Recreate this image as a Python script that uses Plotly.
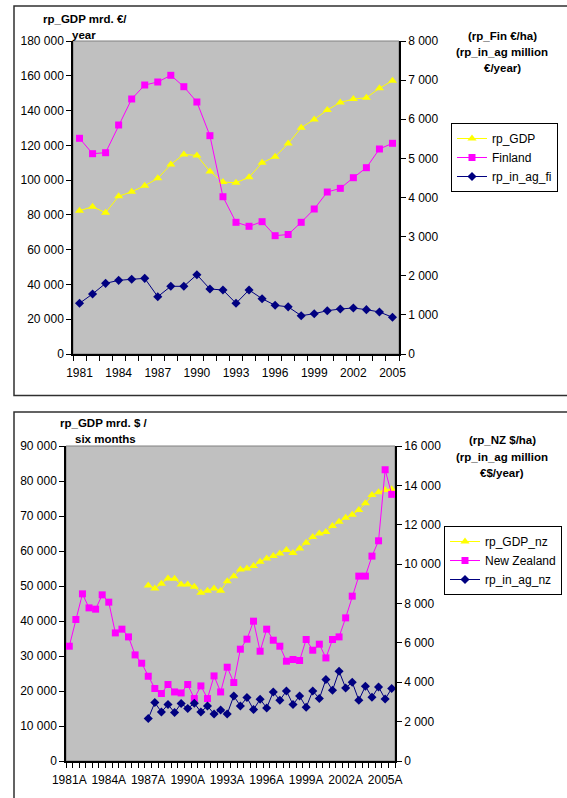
import plotly.graph_objects as go

W, H = 567, 798

# ---------------- Finland, annual series ----------------
fi_years = ["1981", "1982", "1983", "1984", "1985", "1986", "1987", "1988", "1989",
            "1990", "1991", "1992", "1993", "1994", "1995", "1996", "1997", "1998",
            "1999", "2000", "2001", "2002", "2003", "2004", "2005"]
fi_year_labels = ["1981", "1984", "1987", "1990", "1993", "1996", "1999", "2002", "2005"]

# rp_GDP, mrd. EUR / year (left axis)
fi_gdp = [82400, 84700, 81300, 90700, 93300, 96800, 101000, 109000, 114800, 114200,
          105000, 98900, 98500, 101600, 110000, 113500, 121000, 130100, 134900, 140300,
          144700, 146600, 147400, 152800, 157200]
# Finland rp, EUR/ha (right axis)
fi_rp = [5513, 5120, 5145, 5853, 6518, 6875, 6952, 7123, 6832, 6441,
         5580, 4020, 3366, 3264, 3382, 3024, 3055, 3366, 3706, 4140,
         4234, 4506, 4762, 5240, 5385]
# rp_in_ag, million EUR / year (right axis)
fi_in_ag = [1296, 1534, 1806, 1883, 1909, 1934, 1465, 1730, 1730, 2027,
            1661, 1636, 1296, 1636, 1414, 1245, 1205, 979, 1030, 1107,
            1150, 1176, 1133, 1074, 938]

# ---------------- New Zealand, half-year series ----------------
nz_periods = ["1981A", "1981B", "1982A", "1982B", "1983A", "1983B", "1984A", "1984B",
              "1985A", "1985B", "1986A", "1986B", "1987A", "1987B", "1988A", "1988B",
              "1989A", "1989B", "1990A", "1990B", "1991A", "1991B", "1992A", "1992B",
              "1993A", "1993B", "1994A", "1994B", "1995A", "1995B", "1996A", "1996B",
              "1997A", "1997B", "1998A", "1998B", "1999A", "1999B", "2000A", "2000B",
              "2001A", "2001B", "2002A", "2002B", "2003A", "2003B", "2004A", "2004B",
              "2005A", "2005B"]
nz_period_labels = ["1981A", "1984A", "1987A", "1990A", "1993A", "1996A", "1999A",
                    "2002A", "2005A"]

# rp_GDP_nz, mrd. $ / six months (left axis)
nz_gdp = [None, None, None, None, None, None, None, None, None, None, None, None,
          50160, 49300, 50620, 52160, 52050, 50450, 50450, 49760, 48050, 48620,
          49300, 48620, 51390, 52820, 54740, 55020, 55680, 56910, 57880, 58540,
          59310, 60260, 59400, 60740, 62350, 63970, 65030, 65410, 67120, 68350,
          69490, 70350, 71700, 73610, 75990, 76760, 77420, 77620]
# New Zealand rp, $/ha (right axis)
nz_rp = [5831, 7189, 8490, 7778, 7712, 8439, 8068, 6507, 6696, 6304,
         5389, 4967, 4306, 3681, 3427, 3884, 3508, 3457, 3884, 3172,
         3813, 3172, 4321, 3508, 4764, 3986, 5679, 6187, 7102, 5577,
         6696, 6136, 5831, 5069, 5155, 5104, 6172, 5628, 5933, 5236,
         6172, 6304, 7270, 8373, 9390, 9390, 10407, 11185, 14794, 13544]
# rp_in_ag_nz (right axis)
nz_in_ag = [None, None, None, None, None, None, None, None, None, None, None, None,
            2156, 2969, 2491, 2867, 2461, 2923, 2664, 2933, 2491, 2796,
            2389, 2593, 2389, 3305, 2796, 3223, 2613, 3137, 2694, 3508,
            3086, 3559, 2867, 3305, 2730, 3559, 3172, 4138, 3594, 4560,
            3711, 4001, 3086, 3798, 3238, 3762, 3152, 3681]

YELLOW = "#FFFF00"
MAGENTA = "#FF00FF"
NAVY = "#000080"
FONT = "Liberation Sans, Arial, sans-serif"


def px_x(p):
    return p / W


def px_y(p):
    return 1 - p / H


fig = go.Figure()


def add_series(x, y, name, color, symbol, size, xa, ya, legend):
    fig.add_trace(go.Scatter(
        x=x, y=y, name=name, mode="lines+markers",
        line=dict(color=color, width=1),
        marker=dict(color=color, symbol=symbol, size=size, line=dict(width=0)),
        xaxis=xa, yaxis=ya, legend=legend, connectgaps=False,
    ))


# top chart
add_series(fi_years, fi_gdp, "rp_GDP", YELLOW, "triangle-up", 8, "x", "y", "legend")
add_series(fi_years, fi_rp, "Finland", MAGENTA, "square", 7, "x", "y2", "legend")
add_series(fi_years, fi_in_ag, "rp_in_ag_fi", NAVY, "diamond", 7, "x", "y2", "legend")

# bottom chart
add_series(nz_periods, nz_gdp, "rp_GDP_nz", YELLOW, "triangle-up", 8, "x2", "y3", "legend2")
add_series(nz_periods, nz_rp, "New Zealand", MAGENTA, "square", 7, "x2", "y4", "legend2")
add_series(nz_periods, nz_in_ag, "rp_in_ag_nz", NAVY, "diamond", 7, "x2", "y4", "legend2")

tick_font = dict(family=FONT, size=12, color="black")

axis_common = dict(
    showgrid=False, zeroline=False, showline=True, linecolor="black", linewidth=1.5,
    ticks="outside", ticklen=5, tickwidth=1, tickcolor="black", tickfont=tick_font,
    fixedrange=True, automargin=False,
)

top_x = [px_x(73), px_x(399)]
top_y = [px_y(354), px_y(41)]
bot_x = [px_x(66), px_x(395)]
bot_y = [px_y(761), px_y(446)]

legend_common = dict(xanchor="left", yanchor="top", bgcolor="white",
                     bordercolor="black", borderwidth=1,
                     font=dict(family=FONT, size=12), itemwidth=30,
                     tracegroupgap=0)

fig.update_layout(
    width=W, height=H, autosize=False,
    margin=dict(l=0, r=0, t=0, b=0, pad=0, autoexpand=False),
    paper_bgcolor="white", plot_bgcolor="#C0C0C0",
    separators=". ",
    font=dict(family=FONT, size=12, color="black"),
    xaxis=dict(axis_common, type="category", domain=top_x, anchor="y",
               range=[-0.5, len(fi_years) - 0.5], tickmode="array",
               tickvals=fi_years,
               ticktext=[y if y in fi_year_labels else "" for y in fi_years],
               tickson="boundaries", tickangle=0, ticklabelstandoff=7),
    yaxis=dict(axis_common, domain=top_y, anchor="x", range=[0, 180000],
               dtick=20000, tickformat=",d"),
    yaxis2=dict(axis_common, overlaying="y", side="right", anchor="x",
                range=[0, 8000], dtick=1000, tickformat=",d"),
    xaxis2=dict(axis_common, type="category", domain=bot_x, anchor="y3",
                range=[-0.5, len(nz_periods) - 0.5], tickmode="array",
                tickvals=nz_periods,
                ticktext=[p if p in nz_period_labels else "" for p in nz_periods],
                tickson="boundaries", tickangle=0, ticklabelstandoff=7),
    yaxis3=dict(axis_common, domain=bot_y, anchor="x2", range=[0, 90000],
                dtick=10000, tickformat=",d"),
    yaxis4=dict(axis_common, overlaying="y3", side="right", anchor="x2",
                range=[0, 16000], dtick=2000, tickformat=",d"),
    legend=dict(legend_common, x=px_x(451), y=px_y(123)),
    legend2=dict(legend_common, x=px_x(444), y=px_y(526)),
    showlegend=True,
)

# plot-area outlines (grey) and chart frames
shapes = [
    dict(type="rect", xref="paper", yref="paper", x0=top_x[0], x1=top_x[1],
         y0=top_y[0], y1=top_y[1], line=dict(color="#808080", width=1), layer="below"),
    dict(type="rect", xref="paper", yref="paper", x0=bot_x[0], x1=bot_x[1],
         y0=bot_y[0], y1=bot_y[1], line=dict(color="#808080", width=1), layer="below"),
    dict(type="rect", xref="paper", yref="paper", x0=px_x(14), x1=1.05,
         y0=px_y(395.5), y1=px_y(6), line=dict(color="#303030", width=1.5)),
    dict(type="rect", xref="paper", yref="paper", x0=px_x(14), x1=1.05,
         y0=-0.05, y1=px_y(412), line=dict(color="#303030", width=1.5)),
]
fig.update_layout(shapes=shapes)

# axis titles, one annotation per text line
title_font = dict(family=FONT, size=11.5, color="black")
title_lines = [
    ("rp_GDP mrd. €/", 85, 19),
    ("year", 84, 35),
    ("(rp_Fin €/ha)", 502, 36),
    ("(rp_in_ag million", 502, 52),
    ("€/year)", 502, 68),
    ("rp_GDP mrd. $ /", 104, 423),
    ("six months", 105, 439),
    ("(rp_NZ $/ha)", 502, 440),
    ("(rp_in_ag million", 502, 457),
    ("€$/year)", 502, 473),
]
annotations = [
    dict(text="<b>%s</b>" % t, x=px_x(x), y=px_y(y), xref="paper", yref="paper",
         xanchor="center", yanchor="middle", align="center", showarrow=False,
         font=title_font)
    for t, x, y in title_lines
]
fig.update_layout(annotations=annotations)

fig.write_html("out.html")
